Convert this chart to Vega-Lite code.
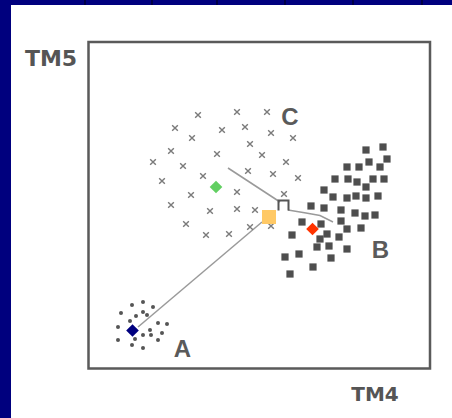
{
  "$schema": "https://vega.github.io/schema/vega-lite/v6.json",
  "width": 441,
  "height": 413,
  "autosize": {"type": "none"},
  "padding": {"left": 11, "top": 5, "right": 0, "bottom": 0},
  "background": "#00007e",
  "view": {"fill": "#ffffff", "stroke": null},
  "datasets": {
    "pts": [
      {"TM4": 110, "TM5": 253, "cls": "C"}, {"TM4": 149, "TM5": 256, "cls": "C"}, {"TM4": 179, "TM5": 256, "cls": "C"},
      {"TM4": 87, "TM5": 240, "cls": "C"}, {"TM4": 134, "TM5": 238, "cls": "C"}, {"TM4": 157, "TM5": 241, "cls": "C"},
      {"TM4": 104, "TM5": 230, "cls": "C"}, {"TM4": 183, "TM5": 235, "cls": "C"}, {"TM4": 205, "TM5": 230, "cls": "C"},
      {"TM4": 83, "TM5": 217, "cls": "C"}, {"TM4": 129, "TM5": 214, "cls": "C"}, {"TM4": 162, "TM5": 224, "cls": "C"},
      {"TM4": 65, "TM5": 206, "cls": "C"}, {"TM4": 95, "TM5": 202, "cls": "C"}, {"TM4": 174, "TM5": 213, "cls": "C"},
      {"TM4": 198, "TM5": 206, "cls": "C"}, {"TM4": 115, "TM5": 192, "cls": "C"}, {"TM4": 160, "TM5": 197, "cls": "C"},
      {"TM4": 185, "TM5": 194, "cls": "C"}, {"TM4": 210, "TM5": 190, "cls": "C"}, {"TM4": 74, "TM5": 187, "cls": "C"},
      {"TM4": 103, "TM5": 173, "cls": "C"}, {"TM4": 149, "TM5": 176, "cls": "C"}, {"TM4": 196, "TM5": 174, "cls": "C"},
      {"TM4": 83, "TM5": 163, "cls": "C"}, {"TM4": 122, "TM5": 157, "cls": "C"}, {"TM4": 149, "TM5": 159, "cls": "C"},
      {"TM4": 167, "TM5": 158, "cls": "C"}, {"TM4": 98, "TM5": 144, "cls": "C"}, {"TM4": 162, "TM5": 141, "cls": "C"},
      {"TM4": 183, "TM5": 142, "cls": "C"}, {"TM4": 118, "TM5": 133, "cls": "C"}, {"TM4": 141, "TM5": 134, "cls": "C"},
      {"TM4": 295, "TM5": 221, "cls": "B"}, {"TM4": 278, "TM5": 218, "cls": "B"}, {"TM4": 299, "TM5": 209, "cls": "B"},
      {"TM4": 281, "TM5": 206, "cls": "B"}, {"TM4": 259, "TM5": 201, "cls": "B"}, {"TM4": 271, "TM5": 201, "cls": "B"},
      {"TM4": 292, "TM5": 201, "cls": "B"}, {"TM4": 247, "TM5": 189, "cls": "B"}, {"TM4": 260, "TM5": 189, "cls": "B"},
      {"TM4": 269, "TM5": 186, "cls": "B"}, {"TM4": 285, "TM5": 189, "cls": "B"}, {"TM4": 296, "TM5": 189, "cls": "B"},
      {"TM4": 278, "TM5": 181, "cls": "B"}, {"TM4": 236, "TM5": 178, "cls": "B"}, {"TM4": 245, "TM5": 171, "cls": "B"},
      {"TM4": 259, "TM5": 170, "cls": "B"}, {"TM4": 268, "TM5": 172, "cls": "B"}, {"TM4": 278, "TM5": 170, "cls": "B"},
      {"TM4": 290, "TM5": 172, "cls": "B"}, {"TM4": 223, "TM5": 162, "cls": "B"}, {"TM4": 236, "TM5": 160, "cls": "B"},
      {"TM4": 253, "TM5": 158, "cls": "B"}, {"TM4": 267, "TM5": 155, "cls": "B"}, {"TM4": 277, "TM5": 152, "cls": "B"},
      {"TM4": 287, "TM5": 153, "cls": "B"}, {"TM4": 214, "TM5": 146, "cls": "B"}, {"TM4": 233, "TM5": 144, "cls": "B"},
      {"TM4": 253, "TM5": 147, "cls": "B"}, {"TM4": 259, "TM5": 139, "cls": "B"}, {"TM4": 273, "TM5": 140, "cls": "B"},
      {"TM4": 204, "TM5": 133, "cls": "B"}, {"TM4": 239, "TM5": 134, "cls": "B"}, {"TM4": 251, "TM5": 131, "cls": "B"},
      {"TM4": 232, "TM5": 129, "cls": "B"}, {"TM4": 229, "TM5": 121, "cls": "B"}, {"TM4": 241, "TM5": 122, "cls": "B"},
      {"TM4": 259, "TM5": 119, "cls": "B"}, {"TM4": 211, "TM5": 114, "cls": "B"}, {"TM4": 197, "TM5": 111, "cls": "B"},
      {"TM4": 243, "TM5": 110, "cls": "B"}, {"TM4": 225, "TM5": 101, "cls": "B"}, {"TM4": 202, "TM5": 94, "cls": "B"},
      {"TM4": 55, "TM5": 66, "cls": "A"}, {"TM4": 44, "TM5": 63, "cls": "A"}, {"TM4": 65, "TM5": 61, "cls": "A"},
      {"TM4": 33, "TM5": 55, "cls": "A"}, {"TM4": 55, "TM5": 56, "cls": "A"}, {"TM4": 48, "TM5": 52, "cls": "A"},
      {"TM4": 59, "TM5": 53, "cls": "A"}, {"TM4": 42, "TM5": 47, "cls": "A"}, {"TM4": 70, "TM5": 45, "cls": "A"},
      {"TM4": 79, "TM5": 44, "cls": "A"}, {"TM4": 30, "TM5": 41, "cls": "A"}, {"TM4": 62, "TM5": 38, "cls": "A"},
      {"TM4": 74, "TM5": 35, "cls": "A"}, {"TM4": 55, "TM5": 33, "cls": "A"}, {"TM4": 63, "TM5": 33, "cls": "A"},
      {"TM4": 30, "TM5": 28, "cls": "A"}, {"TM4": 47, "TM5": 29, "cls": "A"}, {"TM4": 70, "TM5": 28, "cls": "A"},
      {"TM4": 44, "TM5": 23, "cls": "A"}, {"TM4": 55, "TM5": 20, "cls": "A"}
    ],
    "means": [
      {"TM4": 44.5, "TM5": 37.5, "name": "A"},
      {"TM4": 128, "TM5": 181, "name": "C"},
      {"TM4": 224.5, "TM5": 139, "name": "B"}
    ],
    "links": [
      {"link": "A-mean", "step": 1, "TM4": 50, "TM5": 41},
      {"link": "A-mean", "step": 2, "TM4": 174, "TM5": 146},
      {"link": "C-split", "step": 1, "TM4": 140, "TM5": 200},
      {"link": "C-split", "step": 2, "TM4": 192, "TM5": 166},
      {"link": "split-B", "step": 1, "TM4": 200, "TM5": 158},
      {"link": "split-B", "step": 2, "TM4": 218, "TM5": 155},
      {"link": "split-B", "step": 3, "TM4": 232, "TM5": 152.5},
      {"link": "split-B", "step": 4, "TM4": 245, "TM5": 146}
    ],
    "labels": [
      {"TM4": 202, "TM5": 250, "text": "C"},
      {"TM4": 292.5, "TM5": 117, "text": "B"},
      {"TM4": 94.5, "TM5": 18, "text": "A"}
    ],
    "ticks": [
      {"TM4": -3}, {"TM4": 64}, {"TM4": 129}, {"TM4": 197}, {"TM4": 265}, {"TM4": 334}
    ]
  },
  "layer": [
    {
      "data": {"name": "ticks"},
      "mark": {"type": "rule", "color": "#000020", "strokeWidth": 1.2},
      "encoding": {
        "x": {"field": "TM4", "type": "quantitative", "scale": {"domain": [-77, 364], "nice": false, "zero": false}, "axis": null},
        "y": {"datum": 363, "type": "quantitative", "scale": {"domain": [-50, 363], "nice": false, "zero": false}, "axis": null},
        "y2": {"datum": 368}
      }
    },
    {
      "data": {"values": [{"x0": 0.5, "x1": 342, "y0": -0.5, "y1": 326}]},
      "mark": {"type": "rect", "fill": null, "filled": false, "stroke": "#5a5a5a", "strokeWidth": 2.5},
      "encoding": {
        "x": {"field": "x0", "type": "quantitative", "axis": null},
        "x2": {"field": "x1"},
        "y": {"field": "y0", "type": "quantitative", "axis": null},
        "y2": {"field": "y1"}
      }
    },
    {
      "data": {"name": "links"},
      "mark": {"type": "line", "color": "#9a9a9a", "strokeWidth": 1.5},
      "encoding": {
        "x": {"field": "TM4", "type": "quantitative", "axis": null},
        "y": {"field": "TM5", "type": "quantitative", "axis": null},
        "detail": {"field": "link"},
        "order": {"field": "step", "type": "quantitative"}
      }
    },
    {
      "data": {"name": "pts"},
      "transform": [{"filter": "datum.cls === 'C'"}],
      "mark": {"type": "point", "shape": "M-1,-1L1,1M-1,1L1,-1", "size": 32, "filled": false, "stroke": "#7a7a7a", "strokeWidth": 1.4, "opacity": 1},
      "encoding": {
        "x": {"field": "TM4", "type": "quantitative", "axis": null},
        "y": {"field": "TM5", "type": "quantitative", "axis": null}
      }
    },
    {
      "data": {"name": "pts"},
      "transform": [{"filter": "datum.cls === 'B'"}],
      "mark": {"type": "square", "size": 52, "color": "#4e4e4e", "opacity": 1},
      "encoding": {
        "x": {"field": "TM4", "type": "quantitative", "axis": null},
        "y": {"field": "TM5", "type": "quantitative", "axis": null}
      }
    },
    {
      "data": {"name": "pts"},
      "transform": [{"filter": "datum.cls === 'A'"}],
      "mark": {"type": "circle", "size": 16, "color": "#555555", "opacity": 1},
      "encoding": {
        "x": {"field": "TM4", "type": "quantitative", "axis": null},
        "y": {"field": "TM5", "type": "quantitative", "axis": null}
      }
    },
    {
      "data": {"values": [{"TM4": 195.5, "TM5": 162.5}]},
      "mark": {"type": "point", "shape": "M-1,1L-1,-1L1,-1L1,1", "size": 100, "filled": false, "stroke": "#555555", "strokeWidth": 2, "opacity": 1},
      "encoding": {
        "x": {"field": "TM4", "type": "quantitative", "axis": null},
        "y": {"field": "TM5", "type": "quantitative", "axis": null}
      }
    },
    {
      "data": {"values": [{"TM4": 181, "TM5": 151}]},
      "mark": {"type": "square", "size": 196, "color": "#ffc966", "opacity": 1},
      "encoding": {
        "x": {"field": "TM4", "type": "quantitative", "axis": null},
        "y": {"field": "TM5", "type": "quantitative", "axis": null}
      }
    },
    {
      "data": {"name": "means"},
      "mark": {"type": "point", "shape": "diamond", "size": 160, "filled": true, "opacity": 1},
      "encoding": {
        "x": {"field": "TM4", "type": "quantitative", "axis": null},
        "y": {"field": "TM5", "type": "quantitative", "axis": null},
        "color": {"field": "name", "type": "nominal", "scale": {"domain": ["A", "B", "C"], "range": ["#00007f", "#ff3300", "#62cf62"]}, "legend": null}
      }
    },
    {
      "data": {"name": "labels"},
      "mark": {"type": "text", "font": "Liberation Sans", "fontWeight": "bold", "fontSize": 24, "fill": "#5a5a5a", "align": "center", "baseline": "middle"},
      "encoding": {
        "x": {"field": "TM4", "type": "quantitative", "axis": null},
        "y": {"field": "TM5", "type": "quantitative", "axis": null},
        "text": {"field": "text"}
      }
    },
    {
      "data": {"values": [{"TM4": -37, "TM5": 309, "text": "TM5"}]},
      "mark": {"type": "text", "font": "DejaVu Sans", "fontWeight": "bold", "fontSize": 22, "fill": "#555555", "align": "center", "baseline": "middle"},
      "encoding": {
        "x": {"field": "TM4", "type": "quantitative", "axis": null},
        "y": {"field": "TM5", "type": "quantitative", "axis": null},
        "text": {"field": "text"}
      }
    },
    {
      "data": {"values": [{"TM4": 287, "TM5": -27, "text": "TM4"}]},
      "mark": {"type": "text", "font": "DejaVu Sans", "fontWeight": "bold", "fontSize": 20, "fill": "#555555", "align": "center", "baseline": "middle"},
      "encoding": {
        "x": {"field": "TM4", "type": "quantitative", "axis": null},
        "y": {"field": "TM5", "type": "quantitative", "axis": null},
        "text": {"field": "text"}
      }
    }
  ]
}
